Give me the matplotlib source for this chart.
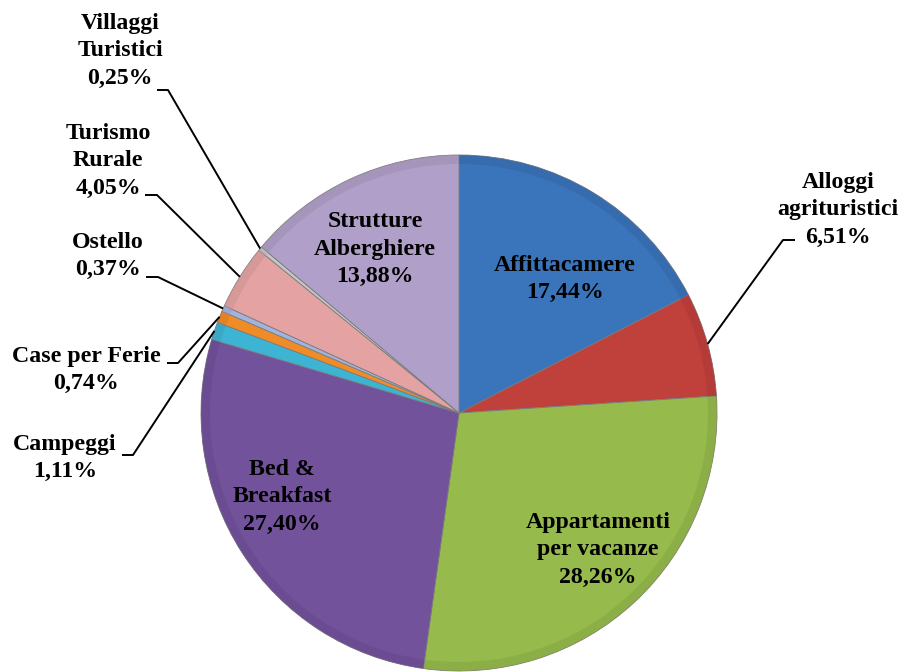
import matplotlib
matplotlib.use("Agg")
import matplotlib.pyplot as plt
from matplotlib.patches import Wedge
import numpy as np

categories = ["Affittacamere", "Alloggi\nagrituristici", "Appartamenti\nper vacanze",
              "Bed &\nBreakfast", "Campeggi", "Case per Ferie", "Ostello",
              "Turismo\nRurale", "Villaggi\nTuristici", "Strutture\nAlberghiere"]
values = [17.44, 6.51, 28.26, 27.40, 1.11, 0.74, 0.37, 4.05, 0.25, 13.88]
value_labels = ["17,44%", "6,51%", "28,26%", "27,40%", "1,11%", "0,74%", "0,37%",
                "4,05%", "0,25%", "13,88%"]
colors = ["#3A74BA", "#C0403C", "#96BA4C", "#73529C", "#3DB4D4", "#F08C28",
          "#A2B3DD", "#E5A2A2", "#C6C6C6", "#B09FC8"]

W, H = 899, 672
fig = plt.figure(figsize=(W / 100, H / 100), dpi=100)
ax = fig.add_axes([0, 0, 1, 1])

cx, cy_pix, R = 459, 413, 258
cy = H - cy_pix

wedges, _ = ax.pie(values, colors=colors, startangle=90, counterclock=False,
                   center=(cx, cy), radius=R, frame=True,
                   wedgeprops=dict(edgecolor="#7a7a7a", linewidth=0.6))
ax.set_xlim(0, W)
ax.set_ylim(0, H)
ax.set_aspect("equal")
ax.axis("off")

# subtle bevel: darker outer ring
for w, c in zip(wedges, colors):
    rgb = np.array(matplotlib.colors.to_rgb(c))
    ring = Wedge((cx, cy), R, w.theta1, w.theta2, width=9,
                 facecolor=tuple(rgb * 0.88), edgecolor="none", alpha=0.5)
    ax.add_patch(ring)

font = dict(family=["Liberation Serif", "DejaVu Serif"], fontweight="bold",
            fontsize=17.2, color="black", ha="center", va="center", linespacing=1.4)

def P(x, y):
    return x, H - y

inside = {0: (565, 279), 2: (598, 550), 3: (282, 497), 9: (375, 249)}
for i, (x, y) in inside.items():
    ax.text(*P(x, y), categories[i] + "\n" + value_labels[i], **font)

outside = {
    1: ((838, 210), (795, 240), (783, 240)),
    4: ((65, 458), (122, 455), (133, 455)),
    5: ((86, 370), (167, 363), (178, 363)),
    6: ((108, 256), (146, 277), (158, 277)),
    7: ((108, 161), (145, 195), (157, 195)),
    8: ((120, 51), (157, 90), (168, 90)),
}
for i, (tpos, e1, e2) in outside.items():
    w = wedges[i]
    mid = np.deg2rad((w.theta1 + w.theta2) / 2)
    ex, ey = cx + R * np.cos(mid), cy + R * np.sin(mid)
    xs = [P(*e1)[0], P(*e2)[0], ex]
    ys = [P(*e1)[1], P(*e2)[1], ey]
    ax.plot(xs, ys, color="black", lw=1.4, solid_capstyle="butt")
    ax.text(*P(*tpos), categories[i] + "\n" + value_labels[i], **font)

fig.savefig("out.png", dpi=100, facecolor="white")
